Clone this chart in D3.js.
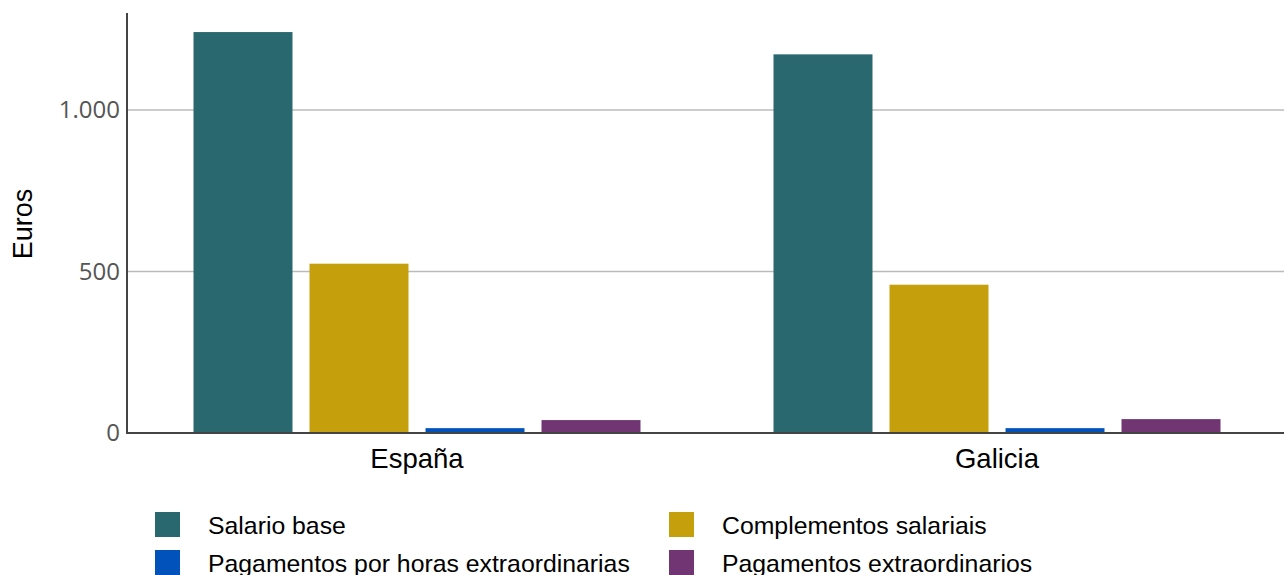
<!DOCTYPE html>
<html>
<head>
<meta charset="utf-8">
<script src="https://cdn.jsdelivr.net/npm/d3@7/dist/d3.min.js"></script>
<style>
  html, body { margin: 0; padding: 0; background: #fff; }
  svg { display: block; }
</style>
</head>
<body>
<svg id="chart" width="1284" height="575"></svg>
<script>
const categories = ["España", "Galicia"];
const seriesNames = ["Salario base", "Complementos salariais", "Pagamentos por horas extraordinarias", "Pagamentos extraordinarios"];
const salarioBase = [1241, 1172];
const complementosSalariais = [524, 459];
const pagamentosHoras = [15, 15];
const pagamentosExtra = [40, 43];
const seriesColors = ["#28686e", "#c69f0c", "#0153bb", "#703572"];
const yTicks = [0, 500, 1000];

const seriesValues = [salarioBase, complementosSalariais, pagamentosHoras, pagamentosExtra];

const svg = d3.select("#chart");
const plotLeft = 127, plotRight = 1287, plotTop = 13, plotBottom = 433;

const x0 = d3.scaleBand().domain(categories).range([plotLeft, plotRight]).padding(0);
const x1 = d3.scaleBand().domain(seriesNames).range([66.5, 513.5]).paddingInner(0.1466).paddingOuter(0);
const y = d3.scaleLinear().domain([0, 1300]).range([plotBottom, plotTop]);
const color = d3.scaleOrdinal().domain(seriesNames).range(seriesColors);

// gridlines
svg.append("g")
  .selectAll("line")
  .data(yTicks.filter(d => d > 0))
  .join("line")
  .attr("x1", plotLeft).attr("x2", 1284)
  .attr("y1", d => y(d)).attr("y2", d => y(d))
  .attr("stroke", "#bbbbbb").attr("stroke-width", 1.5);

// bars
const groups = svg.append("g")
  .selectAll("g")
  .data(categories)
  .join("g")
  .attr("transform", d => `translate(${x0(d)},0)`);

groups.selectAll("rect")
  .data((c, i) => seriesNames.map((s, j) => ({ s, v: seriesValues[j][i] })))
  .join("rect")
  .attr("x", d => x1(d.s))
  .attr("width", x1.bandwidth())
  .attr("y", d => y(d.v))
  .attr("height", d => y(0) - y(d.v))
  .attr("fill", d => color(d.s));

// y axis
const yAxis = d3.axisLeft(y).tickValues(yTicks).tickSize(0).tickPadding(7)
  .tickFormat(d => d3.format(",")(d).replace(/,/g, "."));
const gy = svg.append("g").attr("transform", `translate(${plotLeft},0)`).call(yAxis);
gy.select(".domain").remove();
gy.selectAll("text")
  .attr("font-family", "'Open Sans', sans-serif")
  .attr("font-size", 24)
  .attr("fill", "#555555");

// axis lines
svg.append("line").attr("x1", plotLeft).attr("x2", plotLeft).attr("y1", plotTop).attr("y2", plotBottom + 1)
  .attr("stroke", "#444444").attr("stroke-width", 2);
svg.append("line").attr("x1", plotLeft - 1).attr("x2", 1284).attr("y1", plotBottom).attr("y2", plotBottom)
  .attr("stroke", "#444444").attr("stroke-width", 2);

// x axis labels
const xAxis = d3.axisBottom(x0).tickSize(0).tickPadding(0);
const gx = svg.append("g").attr("transform", `translate(0,${plotBottom})`).call(xAxis);
gx.select(".domain").remove();
gx.selectAll("text")
  .attr("dy", null)
  .attr("y", 35)
  .attr("font-family", "'Liberation Sans', Arial, sans-serif")
  .attr("font-size", 27.5)
  .attr("fill", "#000");

// y axis title
svg.append("text")
  .attr("transform", "translate(32,224) rotate(-90)")
  .attr("text-anchor", "middle")
  .attr("font-family", "'Liberation Sans', Arial, sans-serif")
  .attr("font-size", 27)
  .attr("fill", "#000")
  .text("Euros");

// legend
const legendPos = [[155, 512], [669, 512], [155, 550], [669, 550]];
const lg = svg.append("g")
  .selectAll("g")
  .data(seriesNames)
  .join("g")
  .attr("transform", (d, i) => `translate(${legendPos[i][0]},${legendPos[i][1]})`);
lg.append("rect").attr("width", 25).attr("height", 25).attr("fill", d => color(d));
lg.append("text")
  .attr("x", 53).attr("y", 22)
  .attr("font-family", "'Liberation Sans', Arial, sans-serif")
  .attr("font-size", 24.8)
  .attr("fill", "#000")
  .text(d => d);
</script>
</body>
</html>
